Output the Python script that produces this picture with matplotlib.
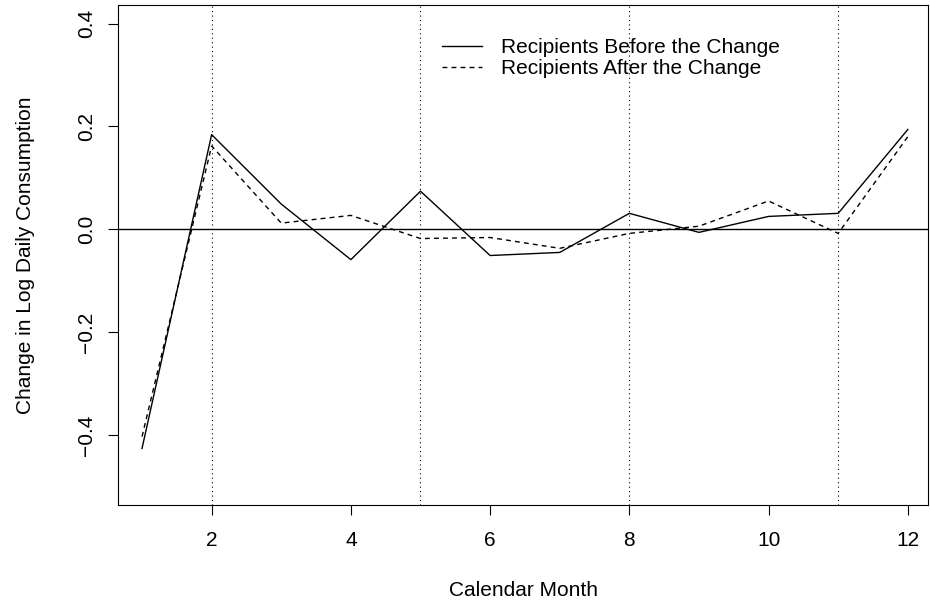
import matplotlib
matplotlib.use("Agg")
import matplotlib.pyplot as plt

months = list(range(1, 13))
before = [-0.426, 0.184, 0.049, -0.059, 0.074, -0.051, -0.045, 0.031, -0.006, 0.025, 0.031, 0.194]
after = [-0.403, 0.162, 0.012, 0.027, -0.018, -0.016, -0.037, -0.008, 0.006, 0.055, -0.008, 0.180]
vlines = [2, 5, 8, 11]
xticks = [2, 4, 6, 8, 10, 12]
yticks = [-0.4, -0.2, 0.0, 0.2, 0.4]

plt.rcParams['font.family'] = ['Liberation Sans', 'DejaVu Sans']
fig = plt.figure(figsize=(9.3, 6.03), dpi=100)
ax = fig.add_axes([118/930, 1-505/603, 810/930, 500/603])
ax.plot(months, before, color='black', lw=1, label='Recipients Before the Change')
ax.plot(months, after, color='black', lw=1, ls=(0, (3.5, 3)), label='Recipients After the Change')
ax.axhline(0, color='black', lw=1)
for v in vlines:
    ax.axvline(v, color='black', lw=0.8, ls=(0, (1, 3)))
ax.set_xlim(0.655, 12.29)
ax.set_ylim(-0.536, 0.436)
ax.set_xticks(xticks)
ax.set_yticks(yticks)
ax.set_yticklabels(['\u22120.4', '\u22120.2', '0.0', '0.2', '0.4'], rotation=90, va='center')
ax.tick_params(labelsize=15, length=7)
ax.tick_params(axis='x', pad=12)
ax.tick_params(axis='y', pad=9)
ax.set_xlabel('Calendar Month', fontsize=15, labelpad=22)
ax.set_ylabel('Change in Log Daily Consumption', fontsize=15, labelpad=30)
ax.legend(loc='upper left', bbox_to_anchor=(316/810, 0.95), frameon=False, fontsize=15,
          handlelength=1.9, handletextpad=0.9, labelspacing=0.1, borderaxespad=0)
fig.savefig('out.png', dpi=100)
